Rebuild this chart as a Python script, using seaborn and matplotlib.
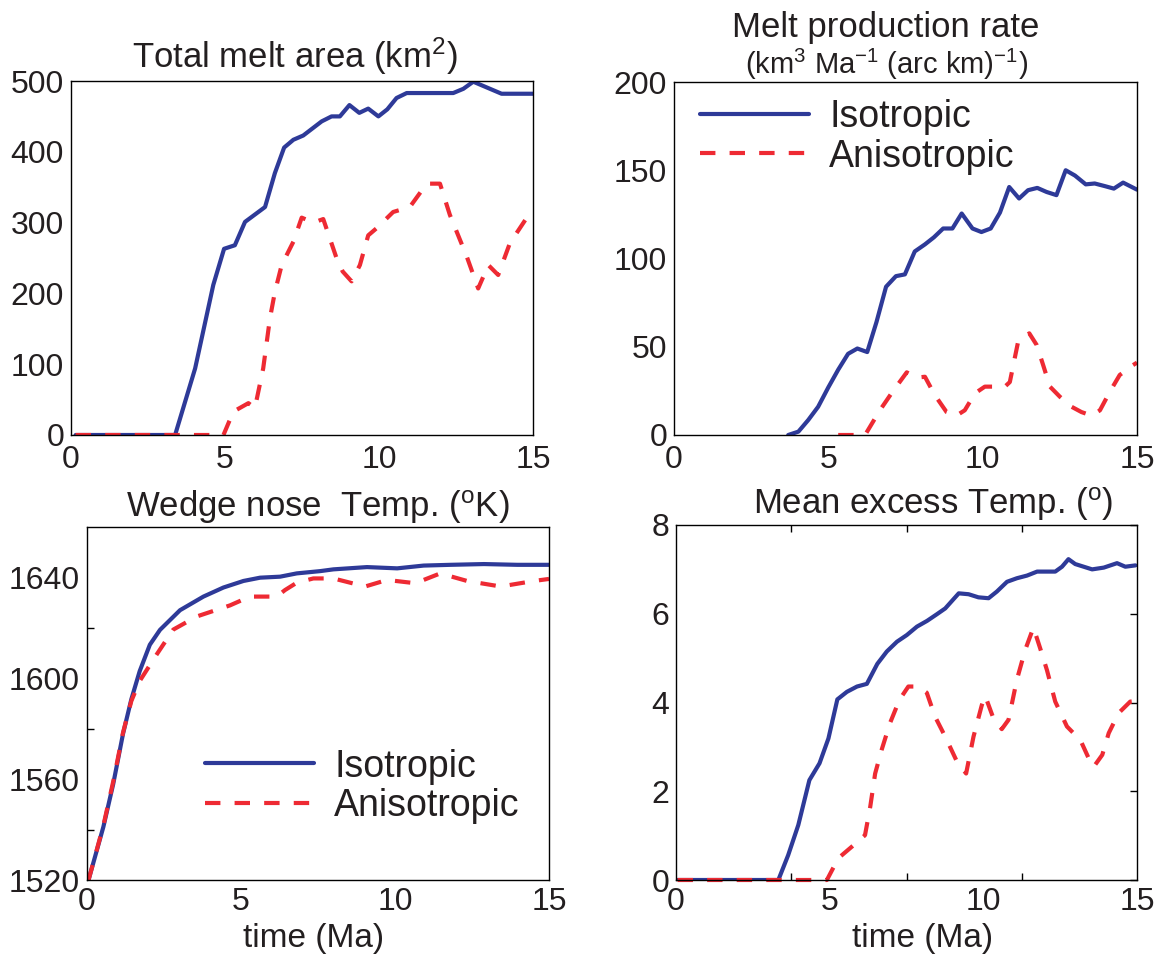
import numpy as np
import pandas as pd
import matplotlib
matplotlib.use("Agg")
import matplotlib.pyplot as plt
import seaborn as sns

# ---- data -------------------------------------------------------------
# Total melt area (km^2)
area_iso_t = [0.15, 3.38, 4.03, 4.62, 4.97, 5.32, 5.65, 6.3, 6.62, 6.92, 7.22, 7.54, 8.14, 8.46,
              8.73, 9.04, 9.36, 9.65, 9.98, 10.27, 10.57, 10.9, 12.41, 12.74, 13.06, 13.98, 15.0]
area_iso_v = [0, 0, 94, 212, 263, 268, 301, 322, 370, 406, 417, 423, 443, 450,
              450, 466, 455, 461, 450, 460, 476, 483, 483, 489, 499, 482, 482]
area_ani_t = [0.15, 4.95, 5.27, 5.76, 5.97, 6.24, 6.46, 6.62, 6.84, 7.22, 7.49, 7.87, 8.19, 8.62,
              8.82, 9.11, 9.38, 9.65, 9.92, 10.46, 11.0, 11.55, 11.98, 12.3, 12.85, 13.22, 13.55,
              13.87, 14.25, 14.8, 15.0]
area_ani_v = [0, 0, 33, 45, 38, 94, 165, 202, 240, 273, 307, 300, 305, 250,
              231, 217, 240, 282, 292, 315, 322, 355, 355, 311, 252, 207, 240,
              226, 271, 307, 307]

# Melt production rate
rate_iso_t = [3.70, 4.03, 4.35, 4.67, 5.0, 5.32, 5.64, 5.94, 6.26, 6.56, 6.87, 7.19, 7.48, 7.80,
              8.13, 8.42, 8.72, 9.02, 9.32, 9.67, 9.96, 10.26, 10.56, 10.86, 11.18, 11.47, 11.77,
              12.07, 12.39, 12.69, 12.99, 13.34, 13.63, 13.96, 14.25, 14.55, 15.0]
rate_iso_v = [0, 1.9, 8.5, 16, 27, 37, 46, 49, 47, 64, 84, 90, 91, 104,
              108, 112, 117, 117, 125.5, 117, 115, 117, 126, 140.5, 134, 138.7, 140,
              137.7, 135.9, 150, 147, 142, 142.5, 141, 139.6, 143, 139]
rate_ani_t = [5.32, 6.19, 6.67, 7.10, 7.54, 7.86, 8.13, 8.45, 8.83, 9.15, 9.42, 9.75, 10.07, 10.72,
              10.88, 11.15, 11.51, 11.75, 11.96, 12.18, 12.5, 12.88, 13.2, 13.53, 13.8, 14.12,
              14.44, 14.87, 15.0]
rate_ani_v = [0, 0, 14, 25, 35.5, 32.5, 33, 22.6, 13, 11, 14, 23.6, 27.4, 27.4,
              30, 53, 57.6, 51, 39.6, 27.4, 21.7, 16, 13, 11, 14, 24.5,
              34, 39.6, 41]

# Wedge nose temperature (K)
nose_iso_t = [0.05, 0.53, 0.85, 1.17, 1.44, 1.71, 2.04, 2.37, 3.02, 3.78, 4.43, 5.08, 5.62, 6.27,
              6.81, 7.57, 8.0, 9.09, 10.07, 10.93, 11.8, 12.89, 13.97, 15.0]
nose_iso_v = [1520, 1541, 1558, 1578, 1591.7, 1602.8, 1613.3, 1619.2, 1627, 1632.4, 1636, 1638.6,
              1639.9, 1640.3, 1641.6, 1642.5, 1643.2, 1644.1, 1643.6, 1644.7, 1645, 1645.3, 1645, 1645]
nose_ani_t = [0.05, 0.53, 0.85, 1.17, 1.44, 1.71, 2.26, 2.80, 3.56, 4.64, 5.29, 6.16, 6.43, 6.81,
              7.35, 8.0, 9.03, 9.74, 10.66, 11.47, 12.34, 13.43, 14.51, 15.0]
nose_ani_v = [1520, 1541.5, 1559, 1578.5, 1591, 1598.9, 1609.4, 1619.3, 1624.5, 1628.9, 1632.4,
              1632.4, 1635, 1637.9, 1639.6, 1639.6, 1636.4, 1639, 1637.7, 1641.6, 1638.6, 1636.4,
              1638.6, 1639.4]

# Mean excess temperature
excess_iso_t = [0.05, 3.33, 3.65, 3.98, 4.34, 4.67, 4.96, 5.25, 5.56, 5.89, 6.21, 6.55, 6.86, 7.19,
                7.51, 7.84, 8.17, 8.49, 8.76, 9.2, 9.52, 9.84, 10.17, 10.44, 10.77, 11.09, 11.42,
                11.75, 12.07, 12.34, 12.56, 12.77, 12.99, 13.54, 13.92, 14.35, 14.62, 14.95]
excess_iso_v = [0, 0, 0.56, 1.24, 2.25, 2.63, 3.19, 4.07, 4.24, 4.36, 4.42, 4.87, 5.15, 5.37,
                5.52, 5.71, 5.84, 5.99, 6.12, 6.46, 6.44, 6.37, 6.35, 6.50, 6.72, 6.80, 6.86,
                6.95, 6.95, 6.95, 7.06, 7.23, 7.12, 7.0, 7.04, 7.14, 7.06, 7.09]
excess_ani_t = [0.05, 4.91, 5.28, 5.72, 6.15, 6.32, 6.48, 6.69, 6.96, 7.27, 7.56, 7.88, 8.16, 8.43,
                8.76, 9.14, 9.44, 9.68, 9.95, 10.06, 10.33, 10.6, 10.82, 11.09, 11.36, 11.63, 11.85,
                12.07, 12.34, 12.72, 13.16, 13.43, 13.59, 13.87, 14.08, 14.4, 14.78, 15.25]
excess_ani_v = [0, 0, 0.49, 0.75, 1.01, 1.65, 2.4, 2.93, 3.53, 4.06, 4.36, 4.36, 4.22, 3.68,
                3.23, 2.67, 2.40, 3.23, 3.94, 4.15, 3.64, 3.40, 3.61, 4.51, 5.18, 5.69, 5.22,
                4.73, 4.02, 3.46, 3.15, 2.74, 2.55, 2.82, 3.31, 3.76, 4.02, 4.05]

series_names = ["Isotropic", "Anisotropic"]
x_ticks = [0, 5, 10, 15]
x_label = "time (Ma)"

# ---- style ------------------------------------------------------------
sns.set_theme(style="white")
plt.rcParams["font.family"] = ["Liberation Sans", "DejaVu Sans"]
plt.rcParams["mathtext.fontset"] = "custom"
plt.rcParams["mathtext.rm"] = "Liberation Sans"
plt.rcParams["mathtext.it"] = "Liberation Sans:italic"
plt.rcParams["mathtext.bf"] = "Liberation Sans:bold"

BLUE = "#2E3A98"
RED = "#EE2A33"
LW = 3.0
DASH = (0, (3.7, 3.4))
TEXT = "#231F20"

W, H = 1164, 957
fig = plt.figure(figsize=(W / 100, H / 100), dpi=100)
fig.patch.set_facecolor("white")


def box(l, t, r, b):
    return [l / W, 1 - b / H, (r - l) / W, (b - t) / H]


ax1 = fig.add_axes(box(71, 81, 533, 435))
ax2 = fig.add_axes(box(674, 82, 1137, 435))
ax3 = fig.add_axes(box(87, 527, 549, 880))
ax4 = fig.add_axes(box(676, 525, 1137, 880))


def draw(ax, t_iso, v_iso, t_ani, v_ani, clip=True, xpad=7):
    sns.lineplot(x=t_iso, y=v_iso, ax=ax, color=BLUE, lw=LW, label=series_names[0],
                 sort=False, estimator=None)
    sns.lineplot(x=t_ani, y=v_ani, ax=ax, color=RED, lw=LW, linestyle=DASH,
                 label=series_names[1], sort=False, estimator=None, clip_on=clip)
    ax.legend_.remove()
    ax.set_xlim(0, 15)
    ax.set_xlabel("")
    ax.set_ylabel("")
    for s in ax.spines.values():
        s.set_color("black")
        s.set_linewidth(1.0)
    ax.tick_params(direction="in", length=5, width=1.0, color="black",
                   labelsize=23, labelcolor=TEXT, pad=5)
    ax.tick_params(axis="x", pad=xpad)
    ax.set_xticks(x_ticks)


draw(ax1, area_iso_t, area_iso_v, area_ani_t, area_ani_v)
ax1.set_ylim(0, 500)
ax1.set_yticks([0, 100, 200, 300, 400, 500])

draw(ax2, rate_iso_t, rate_iso_v, rate_ani_t, rate_ani_v)
ax2.set_ylim(0, 200)
ax2.set_yticks([0, 50, 100, 150, 200])

draw(ax3, nose_iso_t, nose_iso_v, nose_ani_t, nose_ani_v, xpad=5)
ax3.set_ylim(1520, 1660)
ax3.set_yticks([1520, 1560, 1600, 1640])
ax3.set_yticks([1540, 1580, 1620], minor=True)
ax3.tick_params(which="minor", direction="in", length=5, width=1.0, color="black", left=True)

draw(ax4, excess_iso_t, excess_iso_v, excess_ani_t, excess_ani_v, clip=False, xpad=5)
ax4.set_ylim(0, 8)
ax4.set_yticks([0, 2, 4, 6, 8])
# tick marks at quarter intervals, labels at round values
ax4.set_xticks([3.75, 7.5, 11.25], minor=True)
ax4.tick_params(axis="x", which="major", length=0)
ax4.tick_params(which="both", top=True, right=True)
ax4.tick_params(axis="x", which="minor", direction="in", length=5, width=1.0, color="black",
                bottom=True, top=True)

# ---- titles -----------------------------------------------------------
TS = 25
ax1.text(0.485, 1.037, "Total melt area (km$^2$)", transform=ax1.transAxes,
         ha="center", va="baseline", fontsize=TS, color=TEXT)
ax2.text(0.458, 1.128, "Melt production rate", transform=ax2.transAxes,
         ha="center", va="baseline", fontsize=TS, color=TEXT)
ax2.text(0.458, 1.023, "(km$^3$ Ma$^{-1}$ (arc km)$^{-1}$)", transform=ax2.transAxes,
         ha="center", va="baseline", fontsize=21, color=TEXT)
ax3.text(0.5, 1.027, "Wedge nose  Temp. ($^\\mathrm{o}$K)", transform=ax3.transAxes,
         ha="center", va="baseline", fontsize=TS, color=TEXT)
ax4.text(0.558, 1.031, "Mean excess Temp. ($^\\mathrm{o}$)", transform=ax4.transAxes,
         ha="center", va="baseline", fontsize=TS, color=TEXT)

ax3.text(0.49, -0.19, x_label, transform=ax3.transAxes, ha="center", va="baseline",
         fontsize=24, color=TEXT)
ax4.text(0.535, -0.19, x_label, transform=ax4.transAxes, ha="center", va="baseline",
         fontsize=24, color=TEXT)

# ---- legends ----------------------------------------------------------
for ax, anchor in ((ax2, (0.056, 0.845)), (ax3, (0.255, 0.265))):
    h, l = ax.get_legend_handles_labels()
    ax.legend(h, l, loc="center left", bbox_to_anchor=anchor, frameon=False,
              fontsize=27, handlelength=2.9, handletextpad=0.55, labelspacing=0.1,
              borderpad=0, borderaxespad=0, labelcolor=TEXT)

fig.savefig("out.png", dpi=100, facecolor="white")
